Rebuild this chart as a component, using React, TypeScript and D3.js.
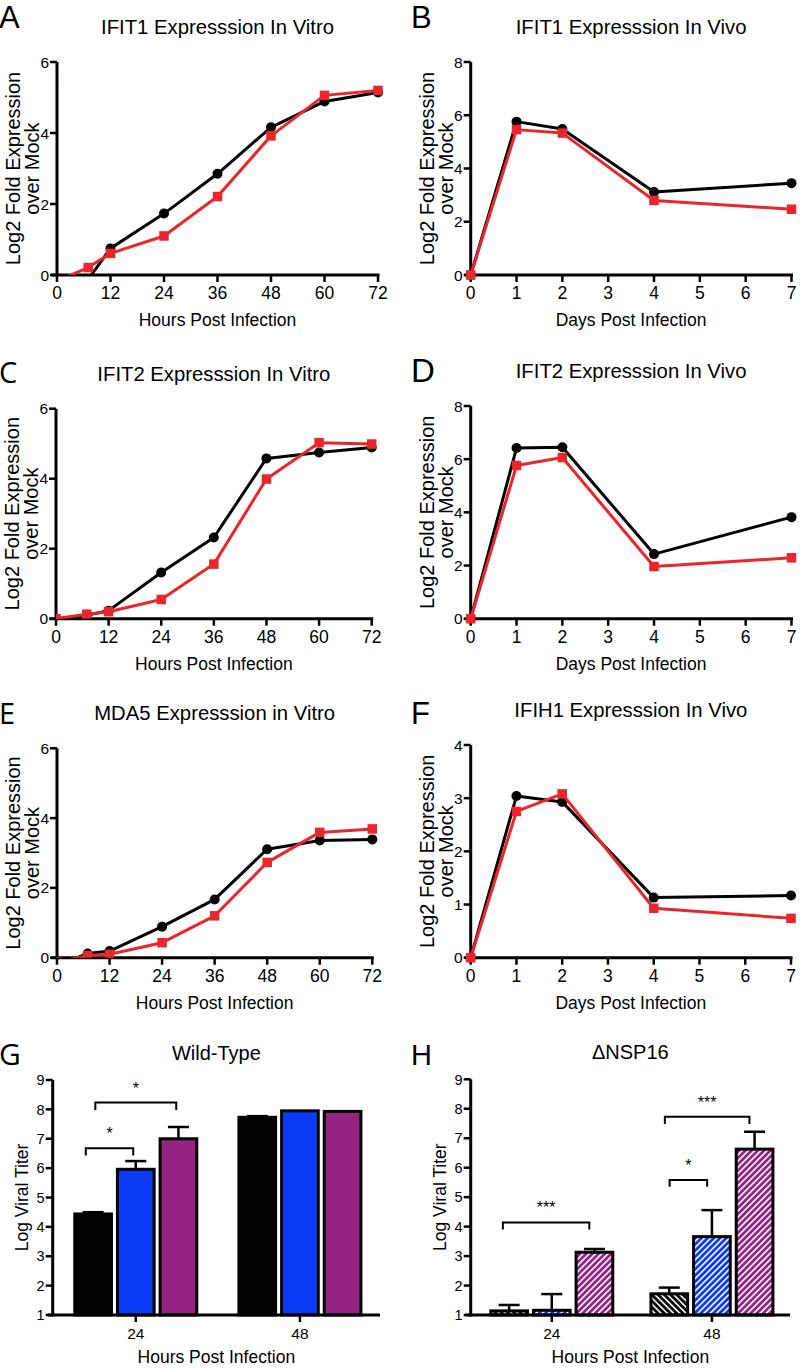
import React from 'react';
import * as d3 from 'd3';

const FONT = "'Liberation Sans', Arial, Helvetica, sans-serif";
const LETTER_ALT = "'Open Sans', 'Liberation Sans', sans-serif";
const RED = '#e9262b';
const BLACK = '#000000';
const BLUE = '#0a3cf5';
const PURPLE = '#952384';

// ---------- line chart data ----------
const hoursVitro = [0, 7, 12, 24, 36, 48, 60, 72];
const daysVivo = [0, 1, 2, 4, 7];
const hourTicks = [0, 12, 24, 36, 48, 60, 72];
const dayTicks = [0, 1, 2, 3, 4, 5, 6, 7];

const ifit1VitroBlack = [-0.3, -0.12, 0.75, 1.73, 2.85, 4.16, 4.89, 5.14];
const ifit1VitroRed = [-0.17, 0.21, 0.61, 1.1, 2.21, 3.92, 5.06, 5.2];
const ifit1VivoBlack = [0, 5.76, 5.48, 3.12, 3.45];
const ifit1VivoRed = [0, 5.46, 5.33, 2.8, 2.47];
const ifit2VitroBlack = [0, 0.1, 0.23, 1.32, 2.32, 4.58, 4.75, 4.89];
const ifit2VitroRed = [0, 0.13, 0.2, 0.55, 1.56, 3.99, 5.03, 4.99];
const ifit2VivoBlack = [0, 6.42, 6.45, 2.43, 3.82];
const ifit2VivoRed = [0, 5.76, 6.06, 1.96, 2.29];
const mda5VitroBlack = [-0.23, 0.12, 0.19, 0.89, 1.67, 3.11, 3.36, 3.39];
const mda5VitroRed = [-0.12, 0.06, 0.1, 0.43, 1.2, 2.73, 3.59, 3.69];
const ifih1VivoBlack = [0, 3.04, 2.93, 1.13, 1.17];
const ifih1VivoRed = [0, 2.75, 3.08, 0.93, 0.74];

const yTicks6 = [0, 2, 4, 6];
const yTicks8 = [0, 2, 4, 6, 8];
const yTicks4 = [0, 1, 2, 3, 4];

// ---------- bar chart data ----------
const barGroups = ['24', '48'];
const wtBlack = [4.44, 7.73];
const wtBlackErr = [0.06, 0.04];
const wtBlue = [5.96, 7.95];
const wtBlueErr = [0.28, 0];
const wtPurple = [7.0, 7.93];
const wtPurpleErr = [0.4, 0];
const dBlack = [1.14, 1.72];
const dBlackErr = [0.2, 0.21];
const dBlue = [1.16, 3.66];
const dBlueErr = [0.55, 0.9];
const dPurple = [3.13, 6.63];
const dPurpleErr = [0.11, 0.59];
const titerTicks = [1, 2, 3, 4, 5, 6, 7, 8, 9];

const wtBrackets = [
  { group: 0, from: 0, fromF: 0.3, to: 1, toF: 0.43, y: 6.68, leg: 6.43, label: '*' },
  { group: 0, from: 0, fromF: 0.56, to: 2, toF: 0.44, y: 8.23, leg: 7.98, label: '*' },
];
const dBrackets = [
  { group: 0, from: 0, fromF: 0.33, to: 2, toF: 0.36, y: 4.14, leg: 3.9, label: '***' },
  { group: 1, from: 0, fromF: 0.51, to: 1, toF: 0.37, y: 5.58, leg: 5.35, label: '*' },
  { group: 1, from: 0, fromF: 0.38, to: 2, toF: 0.36, y: 7.73, leg: 7.48, label: '***' },
];

type LineCfg = {
  id: string;
  letter: string;
  letterFont: string;
  letterSize: number;
  letterX: number;
  letterY: number;
  title: string;
  xLabel: string;
  xs: number[];
  xTicks: number[];
  xMax: number;
  yMax: number;
  yTicks: number[];
  black: number[];
  red: number[];
  rect: { x0: number; x1: number; y0: number; y1: number };
  clip: boolean;
};

function LinePanel({ cfg }: { cfg: LineCfg }) {
  const { x0, x1, y0, y1 } = cfg.rect;
  const x = d3.scaleLinear().domain([0, cfg.xMax]).range([x0, x1]);
  const y = d3.scaleLinear().domain([0, cfg.yMax]).range([y0, y1]);
  const line = d3
    .line<number>()
    .x((_, i) => x(cfg.xs[i]))
    .y((d) => y(d));
  const clipId = 'clip-' + cfg.id;
  const clipAttr = cfg.clip ? `url(#${clipId})` : undefined;
  const cy = (y0 + y1) / 2;
  const sq = 9.5;
  return (
    <g>
      {cfg.clip && (
        <clipPath id={clipId}>
          <rect x={x0} y={y1 - 20} width={x1 - x0 + 20} height={y0 - y1 + 20} />
        </clipPath>
      )}
      <text
        x={cfg.letterX}
        y={cfg.letterY}
        fontFamily={cfg.letterFont}
        fontSize={cfg.letterSize}
      >
        {cfg.letter}
      </text>
      <text x={(x0 + x1) / 2} y={y1 - 28} textAnchor="middle" fontFamily={FONT} fontSize={20.3}>
        {cfg.title}
      </text>
      {/* axes */}
      <line x1={x0} x2={x0} y1={y0 + 1.5} y2={y1} stroke={BLACK} strokeWidth={3} />
      <line x1={x0 - 6} x2={x1 + 1.5} y1={y0} y2={y0} stroke={BLACK} strokeWidth={3} />
      {cfg.yTicks.map((t) => (
        <g key={'y' + t}>
          <line x1={x0 - 7} x2={x0} y1={y(t)} y2={y(t)} stroke={BLACK} strokeWidth={2.5} />
          <text
            x={x0 - 8}
            y={y(t)}
            dy="0.36em"
            textAnchor="end"
            fontFamily={FONT}
            fontSize={15.5}
          >
            {t}
          </text>
        </g>
      ))}
      {cfg.xTicks.map((t) => (
        <g key={'x' + t}>
          <line x1={x(t)} x2={x(t)} y1={y0} y2={y0 + 7} stroke={BLACK} strokeWidth={2.5} />
          <text x={x(t)} y={y0 + 24} textAnchor="middle" fontFamily={FONT} fontSize={17.5}>
            {t}
          </text>
        </g>
      ))}
      <text x={(x0 + x1) / 2} y={y0 + 51} textAnchor="middle" fontFamily={FONT} fontSize={17.5}>
        {cfg.xLabel}
      </text>
      <text
        transform={`translate(${x0 - 37},${cy}) rotate(-90)`}
        textAnchor="middle"
        fontFamily={FONT}
        fontSize={20}
      >
        Log2 Fold Expression
      </text>
      <text
        transform={`translate(${x0 - 18},${cy}) rotate(-90)`}
        textAnchor="middle"
        fontFamily={FONT}
        fontSize={20}
      >
        over Mock
      </text>
      {/* data */}
      <g clipPath={clipAttr}>
        <path d={line(cfg.black) || ''} fill="none" stroke={BLACK} strokeWidth={3} strokeLinejoin="round" />
        {cfg.black.map((v, i) => (
          <circle key={'b' + i} cx={x(cfg.xs[i])} cy={y(v)} r={5} fill={BLACK} />
        ))}
        <path d={line(cfg.red) || ''} fill="none" stroke={RED} strokeWidth={3} strokeLinejoin="round" />
        {cfg.red.map((v, i) => (
          <rect
            key={'r' + i}
            x={x(cfg.xs[i]) - sq / 2}
            y={y(v) - sq / 2}
            width={sq}
            height={sq}
            fill={RED}
          />
        ))}
      </g>
    </g>
  );
}

type Bracket = {
  group: number;
  from: number;
  fromF: number;
  to: number;
  toF: number;
  y: number;
  leg: number;
  label: string;
};

type BarCfg = {
  letter: string;
  letterFont: string;
  letterSize: number;
  letterX: number;
  letterY: number;
  title: string;
  series: { values: number[]; errs: number[]; color: string; hatch?: string }[];
  brackets: Bracket[];
  rect: { x0: number; x1: number; y0: number; y1: number };
};

function BarPanel({ cfg }: { cfg: BarCfg }) {
  const { x0, x1, y0, y1 } = cfg.rect;
  const y = d3.scaleLinear().domain([1, 9]).range([y0, y1]);
  const outer = d3.scaleBand<string>().domain(barGroups).range([x0 + 1, x1 + 2]);
  const inner = d3
    .scaleBand<number>()
    .domain(cfg.series.map((_, i) => i))
    .range([-61, 61])
    .paddingInner(0.14);
  const bw = inner.bandwidth();
  const center = (g: string) => (outer(g) as number) + outer.bandwidth() / 2;
  const barX = (gi: number, si: number) => center(barGroups[gi]) + (inner(si) as number);
  const cy = (y0 + y1) / 2;
  return (
    <g>
      <text x={cfg.letterX} y={cfg.letterY} fontFamily={cfg.letterFont} fontSize={cfg.letterSize}>
        {cfg.letter}
      </text>
      <text x={(x0 + x1) / 2} y={y1 - 20} textAnchor="middle" fontFamily={FONT} fontSize={20}>
        {cfg.title}
      </text>
      {/* error bars */}
      {cfg.series.map((s, si) =>
        s.values.map((v, gi) => {
          const e = s.errs[gi];
          if (!e) return null;
          const cx = barX(gi, si) + bw / 2;
          return (
            <g key={`e${si}-${gi}`}>
              <line x1={cx} x2={cx} y1={y(v)} y2={y(v + e)} stroke={BLACK} strokeWidth={2.5} />
              <line x1={cx - 10.5} x2={cx + 10.5} y1={y(v + e)} y2={y(v + e)} stroke={BLACK} strokeWidth={2.5} />
            </g>
          );
        })
      )}
      {/* bars */}
      {cfg.series.map((s, si) =>
        s.values.map((v, gi) => (
          <rect
            key={`b${si}-${gi}`}
            x={barX(gi, si)}
            y={y(v)}
            width={bw}
            height={y(1) - y(v)}
            fill={s.hatch ? `url(#${s.hatch})` : s.color}
            stroke={BLACK}
            strokeWidth={3}
          />
        ))
      )}
      {/* axes */}
      <line x1={x0} x2={x0} y1={y0 + 1.5} y2={y1} stroke={BLACK} strokeWidth={3} />
      <line x1={x0 - 5} x2={x1} y1={y0} y2={y0} stroke={BLACK} strokeWidth={3} />
      {titerTicks.map((t) => (
        <g key={'y' + t}>
          <line x1={x0 - 7} x2={x0} y1={y(t)} y2={y(t)} stroke={BLACK} strokeWidth={2.5} />
          <text x={x0 - 8} y={y(t)} dy="0.36em" textAnchor="end" fontFamily={FONT} fontSize={14.5}>
            {t}
          </text>
        </g>
      ))}
      {barGroups.map((g) => (
        <g key={'x' + g}>
          <line x1={center(g)} x2={center(g)} y1={y0} y2={y0 + 7} stroke={BLACK} strokeWidth={2.5} />
          <text x={center(g)} y={y0 + 24} textAnchor="middle" fontFamily={FONT} fontSize={15.5}>
            {g}
          </text>
        </g>
      ))}
      <text x={(x0 + x1) / 2} y={y0 + 48} textAnchor="middle" fontFamily={FONT} fontSize={17.5}>
        Hours Post Infection
      </text>
      <text
        transform={`translate(${x0 - 25},${cy}) rotate(-90)`}
        textAnchor="middle"
        fontFamily={FONT}
        fontSize={17.5}
      >
        Log Viral Titer
      </text>
      {/* significance brackets */}
      {cfg.brackets.map((b, i) => {
        const xa = barX(b.group, b.from) + b.fromF * bw;
        const xb = barX(b.group, b.to) + b.toF * bw;
        return (
          <g key={'br' + i}>
            <path
              d={`M${xa},${y(b.leg)}V${y(b.y)}H${xb}V${y(b.leg)}`}
              fill="none"
              stroke={BLACK}
              strokeWidth={2}
            />
            <text
              x={(xa + xb) / 2}
              y={y(b.y) - 9}
              textAnchor="middle"
              fontFamily={FONT}
              fontSize={16}
            >
              {b.label}
            </text>
          </g>
        );
      })}
    </g>
  );
}

const linePanels: LineCfg[] = [
  {
    id: 'A', letter: 'A', letterFont: FONT, letterSize: 31, letterX: -1, letterY: 28,
    title: 'IFIT1 Expresssion In Vitro', xLabel: 'Hours Post Infection',
    xs: hoursVitro, xTicks: hourTicks, xMax: 72, yMax: 6, yTicks: yTicks6,
    black: ifit1VitroBlack, red: ifit1VitroRed,
    rect: { x0: 57, x1: 378, y0: 275, y1: 62 }, clip: true,
  },
  {
    id: 'B', letter: 'B', letterFont: FONT, letterSize: 31, letterX: 411, letterY: 28,
    title: 'IFIT1 Expresssion In Vivo', xLabel: 'Days Post Infection',
    xs: daysVivo, xTicks: dayTicks, xMax: 7, yMax: 8, yTicks: yTicks8,
    black: ifit1VivoBlack, red: ifit1VivoRed,
    rect: { x0: 470.7, x1: 791.5, y0: 275, y1: 62 }, clip: false,
  },
  {
    id: 'C', letter: 'C', letterFont: LETTER_ALT, letterSize: 29, letterX: -1, letterY: 383,
    title: 'IFIT2 Expresssion In Vitro', xLabel: 'Hours Post Infection',
    xs: hoursVitro, xTicks: hourTicks, xMax: 72, yMax: 6, yTicks: yTicks6,
    black: ifit2VitroBlack, red: ifit2VitroRed,
    rect: { x0: 56, x1: 371.7, y0: 618.7, y1: 408.7 }, clip: true,
  },
  {
    id: 'D', letter: 'D', letterFont: FONT, letterSize: 33, letterX: 411, letterY: 382,
    title: 'IFIT2 Expresssion In Vivo', xLabel: 'Days Post Infection',
    xs: daysVivo, xTicks: dayTicks, xMax: 7, yMax: 8, yTicks: yTicks8,
    black: ifit2VivoBlack, red: ifit2VivoRed,
    rect: { x0: 470.7, x1: 791.5, y0: 618.7, y1: 406 }, clip: false,
  },
  {
    id: 'E', letter: 'E', letterFont: LETTER_ALT, letterSize: 29, letterX: -1, letterY: 724,
    title: 'MDA5 Expresssion in Vitro', xLabel: 'Hours Post Infection',
    xs: hoursVitro, xTicks: hourTicks, xMax: 72, yMax: 6, yTicks: yTicks6,
    black: mda5VitroBlack, red: mda5VitroRed,
    rect: { x0: 57, x1: 372.3, y0: 957.7, y1: 748.3 }, clip: true,
  },
  {
    id: 'F', letter: 'F', letterFont: FONT, letterSize: 31, letterX: 411, letterY: 724,
    title: 'IFIH1 Expresssion In Vivo', xLabel: 'Days Post Infection',
    xs: daysVivo, xTicks: dayTicks, xMax: 7, yMax: 4, yTicks: yTicks4,
    black: ifih1VivoBlack, red: ifih1VivoRed,
    rect: { x0: 470.7, x1: 791, y0: 957.7, y1: 745 }, clip: false,
  },
];

const barPanels: BarCfg[] = [
  {
    letter: 'G', letterFont: LETTER_ALT, letterSize: 30, letterX: -1, letterY: 1065,
    title: 'Wild-Type',
    series: [
      { values: wtBlack, errs: wtBlackErr, color: BLACK },
      { values: wtBlue, errs: wtBlueErr, color: BLUE },
      { values: wtPurple, errs: wtPurpleErr, color: PURPLE },
    ],
    brackets: wtBrackets,
    rect: { x0: 52.7, x1: 380, y0: 1315, y1: 1080 },
  },
  {
    letter: 'H', letterFont: FONT, letterSize: 29, letterX: 411, letterY: 1065,
    title: '\u0394NSP16',
    series: [
      { values: dBlack, errs: dBlackErr, color: BLACK, hatch: 'hatchBlack' },
      { values: dBlue, errs: dBlueErr, color: BLUE, hatch: 'hatchBlue' },
      { values: dPurple, errs: dPurpleErr, color: PURPLE, hatch: 'hatchPurple' },
    ],
    brackets: dBrackets,
    rect: { x0: 470.7, x1: 790, y0: 1315, y1: 1079.3 },
  },
];

function Hatch({ id, color, angle }: { id: string; color: string; angle: number }) {
  const p = 4.4;
  return (
    <pattern id={id} patternUnits="userSpaceOnUse" width={p} height={p} patternTransform={`rotate(${angle})`}>
      <rect width={p} height={p} fill={color} />
      <rect width={1.6} height={p} fill="#ffffff" />
    </pattern>
  );
}

export default function App() {
  return (
    <svg
      width={800}
      height={1368}
      viewBox="0 0 800 1368"
      style={{ position: 'absolute', left: 0, top: 0, background: '#fff' }}
    >
      <defs>
        <Hatch id="hatchBlack" color={BLACK} angle={-45} />
        <Hatch id="hatchBlue" color={BLUE} angle={45} />
        <Hatch id="hatchPurple" color={PURPLE} angle={45} />
      </defs>
      <rect width={800} height={1368} fill="#fff" />
      {linePanels.map((c) => (
        <LinePanel key={c.id} cfg={c} />
      ))}
      {barPanels.map((c) => (
        <BarPanel key={c.letter} cfg={c} />
      ))}
    </svg>
  );
}
